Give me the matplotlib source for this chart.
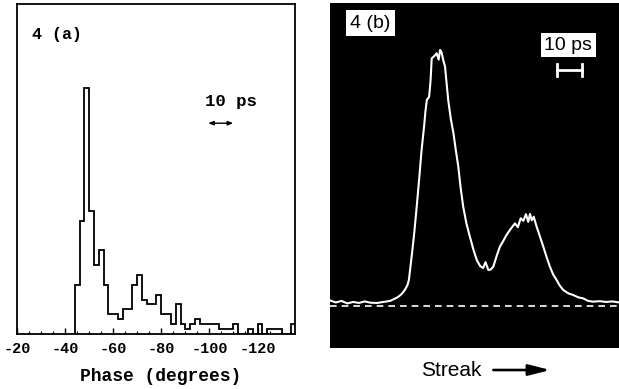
import numpy as np
import matplotlib
matplotlib.use("Agg")
import matplotlib.pyplot as plt
from matplotlib import rcParams
rcParams["axes.unicode_minus"] = False

# Panel (a): phase histogram, 2 degree bins starting at -44
bin_edges = np.arange(-44, -138, -2)
counts = [10, 23, 50, 25, 14, 17, 10, 4, 4, 3, 5, 5, 10, 12, 7, 6, 6, 8,
          4, 4, 2, 6, 2, 1, 2, 3, 2, 2, 2, 2, 1, 1, 1, 2, 0, 0, 1, 0, 2, 0,
          1, 1, 1, 0, 0, 2]
phase_ticks = [-20, -40, -60, -80, -100, -120]

# Panel (b): streak camera trace (streak position, intensity)
streak_x = [0, 2, 4, 6, 8, 10, 12, 14, 16.3, 18.5, 20.8, 22.3, 23.5, 24.8,
            25.9, 26.8, 27.3, 28.4, 29.2, 30.0, 30.9, 31.7, 32.6, 33.0, 33.5,
            34.3, 34.8, 35.2, 36.0, 36.9, 37.6, 38.1, 38.6, 39.2, 39.8, 40.9,
            41.8, 42.7, 43.5, 44.4, 45.2, 46.1, 47.2, 48.4, 49.6, 50.8, 52.0,
            53.0, 53.8, 54.8, 55.6, 56.5, 57.6, 58.8, 59.9, 61.1, 62.5, 64.0,
            65.0, 66.0, 66.9, 67.8, 68.6, 69.2, 69.8, 70.5, 71.5, 72.6, 73.8,
            75.0, 76.1, 77.2, 78.4, 79.5, 80.7, 82.4, 84.2, 85.9, 87.6, 89.3,
            91.1, 93.3, 95.5, 97.8, 100]
streak_y = [1.8, 1.0, 1.6, 0.6, 1.2, 0.8, 1.4, 0.9, 0.8, 1.2, 1.6, 2.4, 3.1, 4.3,
            5.9, 7.8, 9.8, 20.4, 28.8, 38.5, 50.0, 60.8, 70.5, 75.6, 80.4,
            81.6, 88.0, 96.7, 97.5, 98.7, 96.2, 100.0, 99.0, 96.0, 93.5, 80.4,
            73.0, 67.5, 61.0, 54.2, 46.0, 38.5, 32.0, 26.8, 21.8, 17.6, 15.2,
            14.5, 16.8, 13.7, 13.9, 15.0, 19.0, 22.9, 25.0, 27.5, 29.8, 32.0,
            30.5, 34.0, 33.0, 35.6, 32.6, 35.7, 33.2, 34.6, 30.7, 27.0, 22.9,
            18.6, 15.0, 12.0, 9.8, 7.6, 5.9, 4.6, 3.9, 3.0, 2.6, 1.6, 1.3, 1.5,
            1.2, 1.4, 1.0]

fig = plt.figure(figsize=(6.19, 3.89), dpi=100)
mono = "Liberation Mono"
sans = "Liberation Sans"

# ---- panel (a)
ax = fig.add_axes([0.0275, 0.1414, 0.4491, 0.8483])
ax.stairs(counts, bin_edges, baseline=0, fill=False, color="black", linewidth=1.3)
ax.set_xlim(-20, -135.6)
ax.set_ylim(0, 67)
ax.set_xticks(phase_ticks)
ax.set_xticklabels([str(t) for t in phase_ticks], fontfamily=mono, fontsize=11,
                   fontweight="bold")
ax.set_xticks(np.arange(-25, -135, -5), minor=True)
ax.tick_params(axis="x", which="major", direction="in", length=4, width=1, pad=6)
ax.tick_params(axis="x", which="minor", direction="in", length=2, width=0.8)
ax.set_yticks([])
for s in ax.spines.values():
    s.set_linewidth(1.3)
ax.text(0.054, 0.909, "4 (a)", transform=ax.transAxes, fontfamily=mono,
        fontsize=12, fontweight="bold", va="center", ha="left")
ax.text(0.676, 0.706, "10 ps", transform=ax.transAxes, fontfamily=mono,
        fontsize=12.5, fontweight="bold", va="center", ha="left")
ax.annotate("", xy=(-99.5, 42.8), xytext=(-109.9, 42.8),
            arrowprops=dict(arrowstyle="<|-|>,head_length=0.3,head_width=0.12",
                            color="black", lw=1, shrinkA=0, shrinkB=0))
ax.text(0.518, -0.13, "Phase (degrees)", transform=ax.transAxes, fontfamily=mono,
        fontsize=13, fontweight="bold", va="center", ha="center")

# ---- panel (b)
bx = fig.add_axes([0.5331, 0.1054, 0.4669, 0.8869])
bx.set_facecolor("black")
bx.plot(streak_x, streak_y, color="white", linewidth=1.5)
bx.plot([0, 100], [-0.5, -0.5], color="white", linewidth=1.2, dashes=(4, 3))
bx.set_xlim(0, 100)
bx.set_ylim(-16.86, 118.4)
bx.set_xticks([])
bx.set_yticks([])
for s in bx.spines.values():
    s.set_visible(False)
bx.text(0.069, 0.942, "4 (b)", transform=bx.transAxes, fontfamily=sans,
        fontsize=14, va="center", ha="left",
        bbox=dict(boxstyle="square,pad=0.22", facecolor="white", edgecolor="none"))
bx.text(0.824, 0.878, "10 ps", transform=bx.transAxes, fontfamily=sans,
        fontsize=14, va="center", ha="center",
        bbox=dict(boxstyle="square,pad=0.18", facecolor="white", edgecolor="none"))
bx.plot([78.5, 87.2], [92.2, 92.2], color="white", linewidth=2)
bx.plot([78.5, 78.5], [89.8, 94.6], color="white", linewidth=2)
bx.plot([87.2, 87.2], [89.8, 94.6], color="white", linewidth=2)

fig.text(0.681, 0.0488, "Streak", fontfamily=sans, fontsize=15,
         va="center", ha="left")
fig.patches.append(matplotlib.patches.FancyArrowPatch(
    (0.797, 0.0488), (0.889, 0.0488), transform=fig.transFigure,
    arrowstyle="-|>,head_length=13,head_width=3.3", color="black", lw=1.9,
    mutation_scale=1, shrinkA=0, shrinkB=0))

fig.savefig("out.png", dpi=100)
